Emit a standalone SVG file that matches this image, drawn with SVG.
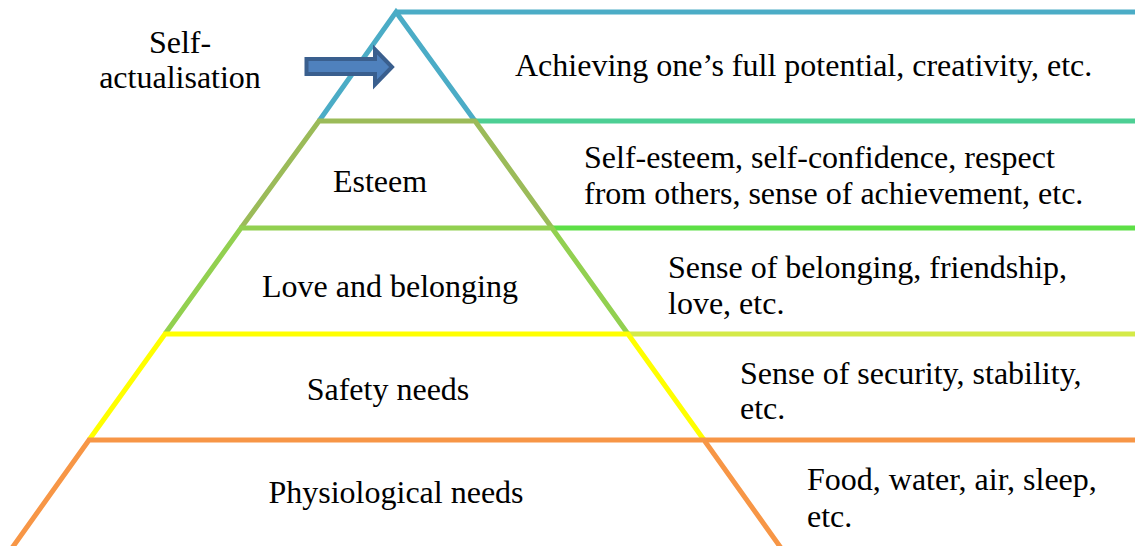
<svg xmlns="http://www.w3.org/2000/svg" width="1135" height="546" viewBox="0 0 1135 546">
<style>
  .lvl { fill: none; stroke-width: 5; stroke-linejoin: miter; stroke-linecap: butt; }
  .ext { fill: none; stroke-width: 5; }
  text { font-family: 'Liberation Serif', 'Tinos', 'Times New Roman', 'DejaVu Serif', serif; font-size: 32px; fill: #000; }
  .c { text-anchor: middle; }
</style>
<rect width="1135" height="546" fill="#ffffff"/>
<g id="connectors">
  <line class="ext" x1="396" y1="12" x2="1135" y2="12" stroke="#4BACC6"/>
  <line class="ext" x1="475" y1="121" x2="1135" y2="121" stroke="#4DCF94"/>
  <line class="ext" x1="552" y1="228" x2="1135" y2="228" stroke="#5DDF46"/>
  <line class="ext" x1="628" y1="334" x2="1135" y2="334" stroke="#D4EA48"/>
  <line class="ext" x1="704" y1="440" x2="1135" y2="440" stroke="#F79646"/>
</g>
<g id="level-self-actualisation">
  <polyline class="lvl" points="319,121 396,12 475,121" stroke="#4BACC6"/>
  <polygon points="306.5,59 375,59 375,49.5 392,67 375,84.5 375,74 306.5,74" fill="#4F81BD" stroke="#3A5F8E" stroke-width="4"/>
  <text class="c" x="180" y="53" font-family="Liberation Serif, serif">Self-</text>
  <text class="c" x="180" y="88">actualisation</text>
  <text x="515" y="76">Achieving one’s full potential, creativity, etc.</text>
</g>
<g id="level-esteem">
  <polyline class="lvl" points="241,228 319,121 475,121 552,228" stroke="#9BBB59"/>
  <text class="c" x="380" y="192">Esteem</text>
  <text x="584" y="168">Self-esteem, self-confidence, respect</text>
  <text x="584" y="204">from others, sense of achievement, etc.</text>
</g>
<g id="level-love">
  <polyline class="lvl" points="165,334 241,228 552,228 628,334" stroke="#92D050"/>
  <text class="c" x="390" y="297">Love and belonging</text>
  <text x="668" y="278">Sense of belonging, friendship,</text>
  <text x="668" y="314">love, etc.</text>
</g>
<g id="level-safety">
  <polyline class="lvl" points="89,440 165,334 628,334 704,440" stroke="#FFFF00"/>
  <text class="c" x="388" y="400">Safety needs</text>
  <text x="740" y="384">Sense of security, stability,</text>
  <text x="740" y="419">etc.</text>
</g>
<g id="level-physiological">
  <polyline class="lvl" points="12,548 89,440 704,440 781,548" stroke="#F79646"/>
  <text class="c" x="396" y="503">Physiological needs</text>
  <text x="807" y="490">Food, water, air, sleep,</text>
  <text x="807" y="527">etc.</text>
</g>
</svg>
